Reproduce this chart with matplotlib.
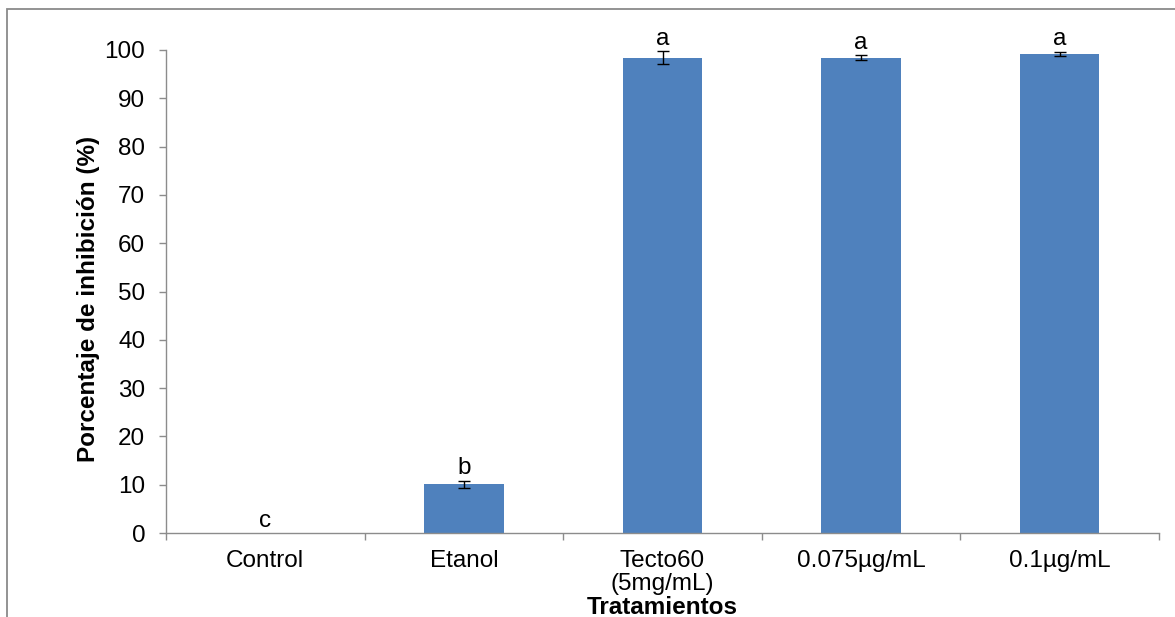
import matplotlib.pyplot as plt
from matplotlib.patches import Rectangle
import numpy as np

plt.rcParams['font.family'] = ['Liberation Sans', 'DejaVu Sans']

# Inhibition per treatment (mean, error) and significance letters
tratamientos = ["Control", "Etanol", "Tecto60\n(5mg/mL)", "0.075µg/mL", "0.1µg/mL"]
inhibicion = [0.0, 10.1, 98.4, 98.4, 99.2]
error = [0.0, 0.75, 1.3, 0.5, 0.45]
letras = ["c", "b", "a", "a", "a"]

bar_color = "#4F81BD"
spine_color = "#8C8C8C"

fig = plt.figure(figsize=(11.75, 6.17), dpi=100)
fig.patch.set_facecolor("white")

# outer chart-area frame (only top and left edges fall inside the image)
fig.patches.append(Rectangle((7 / 1175, -0.2), 1.2, 1.2 - 9 / 617,
                             transform=fig.transFigure, fill=False,
                             edgecolor="#8A8A8A", lw=1.3, zorder=0))

ax = fig.add_axes([166 / 1175, 1 - 533 / 617, (1159 - 166) / 1175, (533 - 50) / 617])

x = np.arange(len(tratamientos))
ax.bar(x, inhibicion, width=0.4, color=bar_color, zorder=2)
ax.errorbar(x[1:], inhibicion[1:], yerr=error[1:], fmt="none", ecolor="black",
            elinewidth=1, capsize=4.5, capthick=1, zorder=3)

for xi, v, e, l in zip(x, inhibicion, error, letras):
    ax.annotate(l, (xi, v + e), xytext=(0, 1), textcoords="offset points",
                ha="center", va="bottom", fontsize=17.5)

ax.set_xlim(-0.5, len(tratamientos) - 0.5)
ax.set_ylim(0, 100)
ax.set_yticks(np.arange(0, 101, 10))

# category labels centered, ticks between categories
ax.set_xticks(x)
ax.set_xticklabels(tratamientos, fontsize=17.5, linespacing=1.1)
ax.set_xticks(np.arange(-0.5, len(tratamientos), 1), minor=True)
ax.tick_params(axis="x", which="major", length=0, pad=12)
ax.tick_params(axis="x", which="minor", length=5, width=1, color=spine_color)
ax.tick_params(axis="y", length=5, width=1, color=spine_color, labelsize=17.5, pad=10)

for side in ["top", "right"]:
    ax.spines[side].set_visible(False)
for side in ["left", "bottom"]:
    ax.spines[side].set_color(spine_color)
    ax.spines[side].set_linewidth(1)

ax.set_ylabel("Porcentaje de inhibición (%)", fontsize=17.5, fontweight="bold")
ax.yaxis.set_label_coords(-0.066, 0.485)
fig.text((166 + 1159) / 2 / 1175, 1 - 607 / 617, "Tratamientos", ha="center", va="center",
         fontsize=17.5, fontweight="bold")

plt.savefig("out.png", dpi=100, facecolor="white")
plt.close()
